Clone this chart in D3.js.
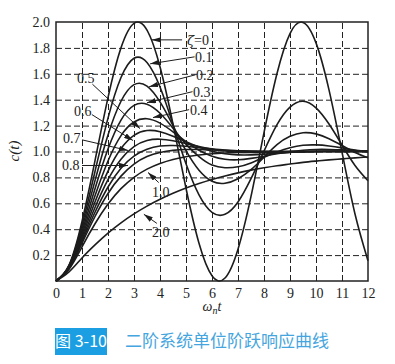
<!DOCTYPE html>
<html>
<head>
<meta charset="utf-8">
<script src="https://cdnjs.cloudflare.com/ajax/libs/d3/7.8.5/d3.min.js"></script>
<style>
body{margin:0;background:#fff;}
svg{display:block;}
.tick text{font-family:"Liberation Serif","DejaVu Serif",serif;font-size:14px;fill:#222;}
.grid line{stroke:#222;stroke-width:1;stroke-dasharray:6,3;}
.grid path{display:none;}
.lbl{font-family:"Liberation Serif","DejaVu Serif",serif;font-size:14px;fill:#222;}
</style>
</head>
<body>
<svg></svg>
<script>
// values, step 0.5 in w_n t
var tValues = [0,0.5,1,1.5,2,2.5,3,3.5,4,4.5,5,5.5,6,6.5,7,7.5,8,8.5,9,9.5,10,10.5,11,11.5,12];
var c00 = [0,0.122,0.460,0.929,1.416,1.801,1.990,1.937,1.654,1.211,0.716,0.291,0.040,0.023,0.246,0.653,1.146,1.602,1.911,1.997,1.839,1.476,0.996,0.517,0.156];
var c01 = [0,0.118,0.431,0.846,1.258,1.571,1.720,1.687,1.498,1.209,0.905,0.665,0.530,0.515,0.610,0.790,1.003,1.207,1.343,1.388,1.337,1.212,1.050,0.892,0.774];
var c02 = [0,0.115,0.405,0.775,1.128,1.388,1.516,1.505,1.383,1.200,1.006,0.855,0.770,0.755,0.790,0.860,0.956,1.053,1.117,1.145,1.136,1.099,1.046,0.993,0.951];
var c03 = [0,0.111,0.381,0.713,1.019,1.242,1.356,1.365,1.295,1.180,1.057,0.960,0.895,0.875,0.882,0.912,0.955,0.996,1.029,1.048,1.051,1.043,1.028,1.011,0.996];
var c04 = [0,0.108,0.360,0.658,0.927,1.123,1.228,1.253,1.219,1.152,1.076,1.010,0.964,0.940,0.936,0.947,0.964,0.983,0.999,1.010,1.016,1.016,1.013,1.008,1.004];
var c05 = [0,0.104,0.340,0.610,0.849,1.023,1.125,1.162,1.153,1.118,1.075,1.034,1.002,0.983,0.974,0.974,0.979,0.986,0.993,0.998,1.002,1.004,1.004,1.004,1.003];
var c06 = [0,0.101,0.322,0.568,0.783,0.941,1.038,1.085,1.095,1.083,1.061,1.038,1.018,1.004,0.995,0.992,0.991,0.992,0.995,0.997,0.999,1.000,1.001,1.001,1.001];
var c07 = [0,0.098,0.306,0.531,0.726,0.871,0.965,1.018,1.042,1.046,1.040,1.030,1.020,1.011,1.005,1.001,0.999,0.999,0.999,1.000,1.000,1.000,1.000,1.000,1.000];
var c08 = [0,0.096,0.291,0.498,0.676,0.810,0.903,0.961,0.993,1.009,1.015,1.015,1.012,1.009,1.006,1.004,1.002,1.001,1.000,1.000,1.000,1.000,1.000,1.000,1.000];
var c10 = [0,0.090,0.264,0.442,0.594,0.713,0.801,0.864,0.908,0.939,0.960,0.973,0.983,0.989,0.993,0.995,0.997,0.998,0.999,0.999,1.000,1.000,1.000,1.000,1.000];
var c20 = [0,0.070,0.178,0.279,0.370,0.449,0.518,0.578,0.631,0.677,0.718,0.753,0.784,0.811,0.835,0.856,0.874,0.890,0.903,0.916,0.926,0.935,0.943,0.951,0.957];

var xTicks = [0,1,2,3,4,5,6,7,8,9,10,11,12];
var yTicks = [0.2,0.4,0.6,0.8,1.0,1.2,1.4,1.6,1.8,2.0];
var captionNo = "图 3-10";
var captionText = "二阶系统单位阶跃响应曲线";

var mainCode = function(){
    var screen = {width:395, height:364}
    var margins = {top:22, right:27, bottom:83, left:56}
    var width = screen.width - margins.left - margins.right;
    var height = screen.height - margins.top - margins.bottom;

    var svg = d3.select("svg")
        .attr("width", screen.width)
        .attr("height", screen.height)

    var xScale = d3.scaleLinear().domain([0,12]).range([0,width])
    var yScale = d3.scaleLinear().domain([0,2]).range([height,0])

    var graph = svg.append("g")
        .attr("transform","translate("+margins.left+","+margins.top+")")

    //dashed grid
    graph.append("g").classed("grid",true)
        .attr("transform","translate(0,"+height+")")
        .call(d3.axisBottom(xScale).tickValues(xTicks.slice(1,-1)).tickSize(-height).tickFormat(""))
    graph.append("g").classed("grid",true)
        .call(d3.axisLeft(yScale).tickValues(yTicks.slice(0,-1)).tickSize(-width).tickFormat(""))

    //tick labels only
    var xAxis = graph.append("g")
        .attr("transform","translate(0,"+height+")")
        .call(d3.axisBottom(xScale).tickValues(xTicks).tickSize(0).tickPadding(7).tickFormat(d3.format("d")))
    var yAxis = graph.append("g")
        .call(d3.axisLeft(yScale).tickValues(yTicks).tickSize(0).tickPadding(6).tickFormat(d3.format(".1f")))
    xAxis.select(".domain").remove()
    yAxis.select(".domain").remove()

    //the curves - natural spline keeps the troughs/peaks between samples
    var series = [c00,c01,c02,c03,c04,c05,c06,c07,c08,c10,c20]
    var lineGenerator = d3.line()
        .x(function(d,i){return xScale(tValues[i])})
        .y(function(d){return yScale(d)})
        .curve(d3.curveNatural)

    graph.append("g").selectAll("path")
        .data(series)
        .enter()
        .append("path")
        .attr("d",lineGenerator)
        .attr("fill","none")
        .attr("stroke","#1c1c1c")
        .attr("stroke-width",1.6)

    //frame
    graph.append("rect")
        .attr("width",width).attr("height",height)
        .attr("fill","none").attr("stroke","#222").attr("stroke-width",1.5)

    //arrow heads
    svg.append("defs").append("marker")
        .attr("id","arr")
        .attr("viewBox","0 0 10 6")
        .attr("refX",10).attr("refY",3)
        .attr("markerWidth",9).attr("markerHeight",5.5)
        .attr("markerUnits","userSpaceOnUse")
        .attr("orient","auto")
        .append("path").attr("d","M0,0L10,3L0,6Z").attr("fill","#1c1c1c")

    //labels: text pos and arrow from/to in data units
    var notes = [
        {t:"0",   x:5.04, y:1.86, a:[4.85,1.862,3.69,1.862], z:true},
        {t:"0.1", x:5.35, y:1.73, a:[5.33,1.731,3.62,1.677]},
        {t:"0.2", x:5.38, y:1.59, a:[5.36,1.592,3.58,1.50]},
        {t:"0.3", x:5.27, y:1.46, a:[5.25,1.462,3.50,1.377]},
        {t:"0.4", x:5.15, y:1.32, a:[5.12,1.323,3.73,1.262]},
        {t:"0.5", x:0.81, y:1.57, a:[1.40,1.52,3.23,1.177]},
        {t:"0.6", x:0.69, y:1.315,a:[1.38,1.285,2.96,1.085]},
        {t:"0.7", x:0.27, y:1.10, a:[1.00,1.09,2.77,1.008]},
        {t:"0.8", x:0.23, y:0.892,a:[1.00,0.892,2.77,0.892]},
        {t:"1.0", x:3.69, y:0.685,a:[3.95,0.76,3.54,0.838]},
        {t:"2.0", x:3.69, y:0.377,a:[3.88,0.445,3.38,0.515]}
    ]
    var ann = graph.append("g")
    ann.selectAll("line").data(notes).enter().append("line")
        .attr("x1",function(d){return xScale(d.a[0])})
        .attr("y1",function(d){return yScale(d.a[1])})
        .attr("x2",function(d){return xScale(d.a[2])})
        .attr("y2",function(d){return yScale(d.a[3])})
        .attr("stroke","#1c1c1c").attr("stroke-width",1)
        .attr("marker-end","url(#arr)")
    var txt = ann.selectAll("text").data(notes).enter().append("text")
        .classed("lbl",true)
        .attr("x",function(d){return xScale(d.x)})
        .attr("y",function(d){return yScale(d.y)})
        .attr("dy","0.35em")
    txt.filter(function(d){return d.z}).append("tspan")
        .attr("font-style","italic")
        .style("font-family","'DejaVu Serif',serif")
        .style("font-size","13px")
        .text("ζ")
    txt.append("tspan").text(function(d){return d.z ? "="+d.t : d.t})

    //axis titles
    var xt = svg.append("text").classed("lbl",true)
        .attr("x",margins.left+width/2).attr("y",311)
        .attr("text-anchor","middle").attr("font-style","italic")
    xt.append("tspan").text("ω")
    xt.append("tspan").attr("font-size","10px").attr("dy",3).text("n")
    xt.append("tspan").attr("dy",-3).text("t")

    svg.append("text").classed("lbl",true)
        .attr("transform","translate(19,151) rotate(-90)")
        .attr("text-anchor","middle").attr("font-style","italic")
        .style("font-size","15px")
        .text("c(t)")

    //caption
    svg.append("rect").attr("x",55).attr("y",328).attr("width",52).attr("height",27).attr("fill","#1b9fe2")
    svg.append("text").attr("x",81).attr("y",347).attr("text-anchor","middle")
        .attr("fill","#fff").style("font-family","'Noto Sans CJK SC',sans-serif").style("font-size","16px")
        .text(captionNo)
    svg.append("text").attr("x",125).attr("y",347)
        .attr("fill","#45a5de").style("font-family","'Noto Sans CJK SC',sans-serif").style("font-size","17px")
        .text(captionText)
}

mainCode()
</script>
</body>
</html>
